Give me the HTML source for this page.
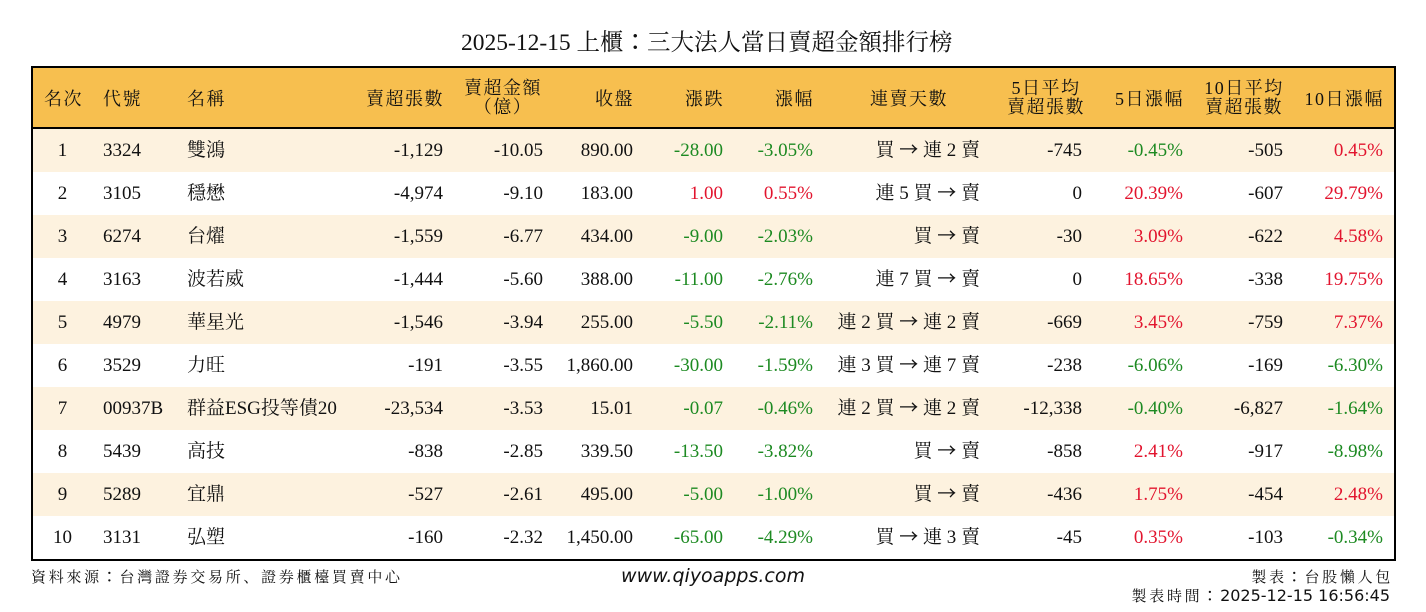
<!DOCTYPE html>
<html>
<head>
<meta charset="utf-8">
<style>
  html, body { margin:0; padding:0; }
  body { width:1426px; height:612px; position:relative; background:#fff; overflow:hidden;
         font-family:"Liberation Serif","Noto Serif CJK SC",serif; color:#111; }
  #title { position:absolute; left:461px; top:30px; height:26px; line-height:26px; font-size:23.5px; white-space:nowrap; }
  .col { font-family:"Noto Sans CJK TC","Noto Sans CJK JP",sans-serif; line-height:0; }
  .ar { font-family:"Noto Sans CJK TC","Noto Sans CJK JP",sans-serif; line-height:0; }
  #tbl { position:absolute; left:31px; top:66px; width:1361px; height:491px; border:2px solid #000; }
  #hdr { position:absolute; left:0; top:0; width:1361px; height:59px; background:#f7bf4f; border-bottom:2px solid #000; font-size:18px; letter-spacing:1.5px; }
  #hdr span { position:absolute; white-space:nowrap; }
  .h1 { top:19px; height:24px; line-height:24px; }
  .h2 { top:11px; line-height:19px; text-align:center; width:110px; }
  .row { position:absolute; left:0; width:1361px; height:43px; line-height:43px; font-size:19px; }
  .odd { background:#fdf2df; }
  .row > span { position:absolute; top:0; white-space:nowrap; }
  .c0 { left:0; width:59px; text-align:center; }
  .c1 { left:70px; }
  .c2 { left:154px; }
  .a{right:951px}.b{right:851px}.c{right:761px}.d{right:671px}.e{right:581px}
  .f{right:414px}.g{right:312px}.h{right:211px}.i{right:111px}.j{right:11px}
  .gr { color:#1d8a22; }
  .rd { color:#e2142e; }
  .foot { position:absolute; white-space:nowrap; }
  .cj { font-family:"Noto Serif CJK SC","DejaVu Sans",serif; font-size:15px; letter-spacing:2.7px; }
  .dv { font-family:"DejaVu Sans",sans-serif; font-size:16px; letter-spacing:0; }
</style>
</head>
<body>
<div id="title">2025-12-15 上櫃<span class="col">：</span>三大法人當日賣超金額排行榜</div>

<div id="tbl">
  <div id="hdr">
    <span class="h1" style="left:0;width:61px;text-align:center;">名次</span>
    <span class="h1" style="left:70px;">代號</span>
    <span class="h1" style="left:154px;">名稱</span>
    <span class="h1" style="right:950px;">賣超張數</span>
    <span class="h2" style="left:415px;">賣超金額<br>（億）</span>
    <span class="h1" style="right:760px;">收盤</span>
    <span class="h1" style="right:670px;">漲跌</span>
    <span class="h1" style="right:580px;">漲幅</span>
    <span class="h1" style="left:826px;width:100px;text-align:center;">連賣天數</span>
    <span class="h2" style="left:958px;">5日平均<br>賣超張數</span>
    <span class="h1" style="right:210px;">5日漲幅</span>
    <span class="h2" style="left:1156px;">10日平均<br>賣超張數</span>
    <span class="h1" style="right:10px;">10日漲幅</span>
  </div>

  <div class="row odd" style="top:61px">
    <span class="c0">1</span><span class="c1">3324</span><span class="c2">雙鴻</span>
    <span class="a">-1,129</span><span class="b">-10.05</span><span class="c">890.00</span>
    <span class="d gr">-28.00</span><span class="e gr">-3.05%</span><span class="f">買 <span class="ar">→</span> 連 2 賣</span>
    <span class="g">-745</span><span class="h gr">-0.45%</span><span class="i">-505</span><span class="j rd">0.45%</span>
  </div>
  <div class="row" style="top:104px">
    <span class="c0">2</span><span class="c1">3105</span><span class="c2">穩懋</span>
    <span class="a">-4,974</span><span class="b">-9.10</span><span class="c">183.00</span>
    <span class="d rd">1.00</span><span class="e rd">0.55%</span><span class="f">連 5 買 <span class="ar">→</span> 賣</span>
    <span class="g">0</span><span class="h rd">20.39%</span><span class="i">-607</span><span class="j rd">29.79%</span>
  </div>
  <div class="row odd" style="top:147px">
    <span class="c0">3</span><span class="c1">6274</span><span class="c2">台燿</span>
    <span class="a">-1,559</span><span class="b">-6.77</span><span class="c">434.00</span>
    <span class="d gr">-9.00</span><span class="e gr">-2.03%</span><span class="f">買 <span class="ar">→</span> 賣</span>
    <span class="g">-30</span><span class="h rd">3.09%</span><span class="i">-622</span><span class="j rd">4.58%</span>
  </div>
  <div class="row" style="top:190px">
    <span class="c0">4</span><span class="c1">3163</span><span class="c2">波若威</span>
    <span class="a">-1,444</span><span class="b">-5.60</span><span class="c">388.00</span>
    <span class="d gr">-11.00</span><span class="e gr">-2.76%</span><span class="f">連 7 買 <span class="ar">→</span> 賣</span>
    <span class="g">0</span><span class="h rd">18.65%</span><span class="i">-338</span><span class="j rd">19.75%</span>
  </div>
  <div class="row odd" style="top:233px">
    <span class="c0">5</span><span class="c1">4979</span><span class="c2">華星光</span>
    <span class="a">-1,546</span><span class="b">-3.94</span><span class="c">255.00</span>
    <span class="d gr">-5.50</span><span class="e gr">-2.11%</span><span class="f">連 2 買 <span class="ar">→</span> 連 2 賣</span>
    <span class="g">-669</span><span class="h rd">3.45%</span><span class="i">-759</span><span class="j rd">7.37%</span>
  </div>
  <div class="row" style="top:276px">
    <span class="c0">6</span><span class="c1">3529</span><span class="c2">力旺</span>
    <span class="a">-191</span><span class="b">-3.55</span><span class="c">1,860.00</span>
    <span class="d gr">-30.00</span><span class="e gr">-1.59%</span><span class="f">連 3 買 <span class="ar">→</span> 連 7 賣</span>
    <span class="g">-238</span><span class="h gr">-6.06%</span><span class="i">-169</span><span class="j gr">-6.30%</span>
  </div>
  <div class="row odd" style="top:319px">
    <span class="c0">7</span><span class="c1">00937B</span><span class="c2">群益ESG投等債20</span>
    <span class="a">-23,534</span><span class="b">-3.53</span><span class="c">15.01</span>
    <span class="d gr">-0.07</span><span class="e gr">-0.46%</span><span class="f">連 2 買 <span class="ar">→</span> 連 2 賣</span>
    <span class="g">-12,338</span><span class="h gr">-0.40%</span><span class="i">-6,827</span><span class="j gr">-1.64%</span>
  </div>
  <div class="row" style="top:362px">
    <span class="c0">8</span><span class="c1">5439</span><span class="c2">高技</span>
    <span class="a">-838</span><span class="b">-2.85</span><span class="c">339.50</span>
    <span class="d gr">-13.50</span><span class="e gr">-3.82%</span><span class="f">買 <span class="ar">→</span> 賣</span>
    <span class="g">-858</span><span class="h rd">2.41%</span><span class="i">-917</span><span class="j gr">-8.98%</span>
  </div>
  <div class="row odd" style="top:405px">
    <span class="c0">9</span><span class="c1">5289</span><span class="c2">宜鼎</span>
    <span class="a">-527</span><span class="b">-2.61</span><span class="c">495.00</span>
    <span class="d gr">-5.00</span><span class="e gr">-1.00%</span><span class="f">買 <span class="ar">→</span> 賣</span>
    <span class="g">-436</span><span class="h rd">1.75%</span><span class="i">-454</span><span class="j rd">2.48%</span>
  </div>
  <div class="row" style="top:448px">
    <span class="c0">10</span><span class="c1">3131</span><span class="c2">弘塑</span>
    <span class="a">-160</span><span class="b">-2.32</span><span class="c">1,450.00</span>
    <span class="d gr">-65.00</span><span class="e gr">-4.29%</span><span class="f">買 <span class="ar">→</span> 連 3 賣</span>
    <span class="g">-45</span><span class="h rd">0.35%</span><span class="i">-103</span><span class="j gr">-0.34%</span>
  </div>
</div>

<div class="foot cj" style="left:31px;top:567px;line-height:20px;">資料來源<span class="col">：</span>台灣證券交易所、證券櫃檯買賣中心</div>
<div class="foot" style="left:613px;width:200px;text-align:center;top:565px;line-height:22px;font-family:'DejaVu Sans',sans-serif;font-style:italic;font-size:19px;">www.qiyoapps.com</div>
<div class="foot cj" style="right:33px;top:567px;line-height:20px;">製表<span class="col">：</span>台股懶人包</div>
<div class="foot" style="right:36px;top:586px;line-height:20px;"><span class="cj">製表時間<span class="col">：</span></span><span class="dv">2025-12-15 16:56:45</span></div>
</body>
</html>
